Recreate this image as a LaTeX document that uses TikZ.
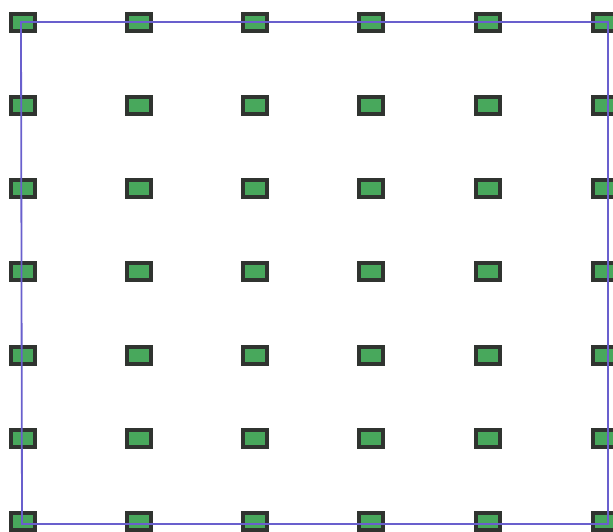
\documentclass[tikz,border=0pt]{standalone}
\usetikzlibrary{calc}
\definecolor{blockdark}{RGB}{48,52,48}
\definecolor{blockgreen}{RGB}{72,168,92}
\definecolor{frameblue}{RGB}{105,95,205}
\tikzset{
  cell/.style={rectangle, draw=blockdark, fill=blockgreen, line width=4pt,
    minimum width=24pt, minimum height=17pt, inner sep=0pt},
  frameline/.style={draw=frameblue, line width=1.8pt}
}
\begin{document}
\begin{tikzpicture}[x=1pt,y=-1pt]
\useasboundingbox (0,0) rectangle (613,531);
\foreach \c/\x in {1/23,2/139,3/255,4/371,5/488,6/605}{
  \foreach \r/\y in {1/22,2/105,3/188,4/271,5/355,6/438,7/521}{
    \node[cell] (b-\c-\r) at (\x,\y) {};
  }
}
\coordinate (tl) at ($(b-1-1.center)+(-2,0)$);
\coordinate (tr) at ($(b-6-1.center)+(3,0)$);
\coordinate (br) at ($(b-6-7.center)+(3,3)$);
\coordinate (bl) at ($(b-1-7.center)+(-1,3)$);
\draw[frameline] (tl) -- (tr) -- (br) -- (bl) -- cycle;
\end{tikzpicture}
\end{document}
